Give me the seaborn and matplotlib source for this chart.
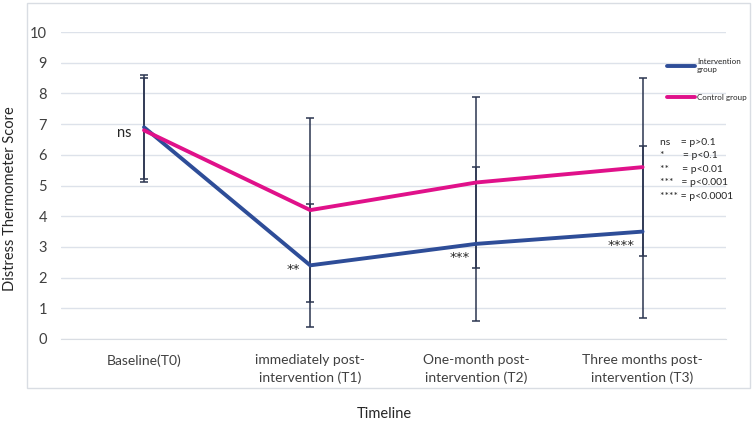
import seaborn as sns
import matplotlib.pyplot as plt
import pandas as pd
from matplotlib.patches import Rectangle

timepoints = ["Baseline(T0)", "immediately post-\nintervention (T1)",
              "One-month post-\nintervention (T2)", "Three months post-\nintervention (T3)"]
intervention_mean = [6.9, 2.4, 3.1, 3.5]
intervention_sd = [1.7, 2.0, 2.5, 2.8]
control_mean = [6.8, 4.2, 5.1, 5.6]
control_sd = [1.7, 3.0, 2.8, 2.9]
sig_labels = ["ns", "**", "***", "****"]
key_lines = ["ns    = p>0.1", "*       = p<0.1", "**     = p<0.01",
             "***   = p<0.001", "**** = p<0.0001"]

blue = "#2e4d98"
pink = "#e0118a"
bar_col = "#2b3550"

df = pd.DataFrame({
    "t": list(range(4)) * 2,
    "score": intervention_mean + control_mean,
    "sd": intervention_sd + control_sd,
    "group": ["Intervention\ngroup"] * 4 + ["Control group"] * 4,
})

sns.set_style("white")
plt.rcParams["font.family"] = ["Lato", "DejaVu Sans"]

fig = plt.figure(figsize=(7.52, 4.23), dpi=100)
ax = fig.add_axes([0.081, 0.1986, 0.884, 0.7255])

# outer chart frame
fig.patches.append(Rectangle((27 / 752, 1 - 388 / 423), 723 / 752, 385 / 423,
                             transform=fig.transFigure, fill=False,
                             edgecolor="#d9dde3", linewidth=1))

for _, r in df.iterrows():
    ax.errorbar(r["t"], r["score"], yerr=r["sd"], fmt="none", ecolor=bar_col,
                elinewidth=1.1, capsize=2.6, capthick=1.1, zorder=2)

sns.lineplot(data=df, x="t", y="score", hue="group", palette=[blue, pink],
             linewidth=2.8, ax=ax, zorder=3)

ax.set_xlim(-0.5, 3.5)
ax.set_ylim(0, 10)
ax.set_yticks(range(11))
ax.set_xticks(range(4))
ax.set_xticklabels(timepoints, fontsize=10, color="#404040", linespacing=1.45)
ax.set_xticks([-0.5, 0.5, 1.5, 2.5, 3.5], minor=True)
ax.tick_params(axis="x", which="major", length=0, pad=11)
ax.tick_params(axis="x", which="minor", length=5, color="#d9dde3")
ax.tick_params(axis="y", length=0, labelsize=10.5, labelcolor="#404040", pad=10)
ax.yaxis.grid(True, color="#dde2ea", linewidth=1)
ax.set_axisbelow(True)
for s in ["top", "left", "right"]:
    ax.spines[s].set_visible(False)
ax.spines["bottom"].set_color("#d9dde3")

ax.set_xlabel("Timeline", fontsize=10.5)
ax.set_ylabel("Distress Thermometer Score", fontsize=10.5)
ax.xaxis.set_label_coords(0.486, -0.222)
ax.yaxis.set_label_coords(-0.066, 0.456)

# significance marks
ast = ["DejaVu Sans"]
ax.text(-0.12, 6.7, sig_labels[0], fontsize=10.5, ha="center", va="center")
ax.text(0.9, intervention_mean[1] - 0.15, sig_labels[1], fontsize=9.5, family=ast,
        ha="center", va="center")
ax.text(1.9, intervention_mean[2] - 0.45, sig_labels[2], fontsize=9.5, family=ast,
        ha="center", va="center")
ax.text(2.87, intervention_mean[3] - 0.45, sig_labels[3], fontsize=9.5, family=ast,
        ha="center", va="center")

for i, line in enumerate(key_lines):
    fig.text(660 / 752, 1 - (142 + i * 13.5) / 423, line, fontsize=7.5, va="center")

ax.legend(title=None, frameon=False, fontsize=5.8, loc="upper left",
          bbox_to_anchor=(663 / 752, 1 - 54 / 423), bbox_transform=fig.transFigure,
          handlelength=3.5, handletextpad=0.2, labelspacing=2.6, borderpad=0)

fig.savefig("out.png", dpi=100)
